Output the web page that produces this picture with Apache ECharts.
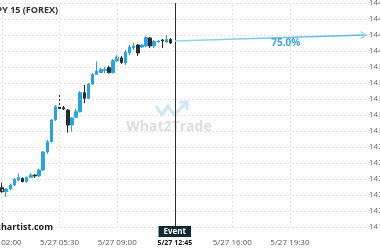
<!DOCTYPE html>
<html><head><meta charset="utf-8">
<script src="https://cdn.jsdelivr.net/npm/echarts@6/dist/echarts.min.js"></script>
<style>html,body{margin:0;padding:0;background:#fff}#c{width:380px;height:250px}</style>
</head><body><div id="c"></div>
<script>
const titleText = 'USD/JPY 15 (FOREX)';
const sourceText = 'chartist.com';
const watermarkText = 'What2Trade';
const eventText = 'Event';
const eventTimeLabel = '5/27 12:45';
const forecastText = '75.0%';

// 15-minute slots starting 5/27 02:00
const slotCount = 89;
const categories = [];
for (let i = 0; i < slotCount; i++) {
  const m = 120 + i * 15;
  const d = m >= 1440 ? '5/28' : '5/27';
  const mm = m % 1440;
  categories.push(d + ' ' + String(Math.floor(mm / 60)).padStart(2, '0') + ':' + String(mm % 60).padStart(2, '0'));
}
const labelIndices = [0, 14, 28, 42, 56, 70];
const eventIndex = 42;
const forecastEndIndex = 88;
const forecastStart = 144.125;
const forecastEnd = 144.2;
const forecastLabelIndex = 69;
const forecastLabelValue = 144.1;

const opens  = [142.291,142.241,142.275,142.325,142.388,142.409,142.366,142.421,142.450,142.438,142.513,142.738,142.866,143.138,143.300,143.291,143.263,143.075,143.171,143.241,143.479,143.409,143.588,143.709,143.731,143.756,143.791,143.729,143.875,143.913,143.850,143.975,144.038,144.075,144.050,144.063,144.163,144.063,144.113,144.138,144.113,144.144];
const closes = [142.241,142.275,142.325,142.396,142.421,142.366,142.421,142.450,142.438,142.513,142.738,142.866,143.138,143.304,143.281,143.275,143.075,143.163,143.241,143.479,143.409,143.588,143.709,143.750,143.769,143.769,143.729,143.879,143.925,143.856,143.988,144.050,144.063,143.975,144.075,144.169,144.063,144.119,144.125,144.125,144.144,144.100];
const lows   = [142.229,142.175,142.263,142.313,142.375,142.363,142.356,142.413,142.413,142.425,142.500,142.713,142.856,143.125,143.263,143.263,142.979,142.991,143.163,143.231,143.350,143.400,143.575,143.700,143.725,143.721,143.719,143.719,143.863,143.838,143.825,143.950,144.013,143.938,144.038,144.050,144.038,144.038,144.100,144.038,144.100,144.088];
const highs  = [142.354,142.288,142.338,142.413,142.471,142.419,142.431,142.475,142.456,142.525,142.750,142.888,143.150,143.325,143.450,143.313,143.275,143.175,143.275,143.500,143.575,143.600,143.725,143.869,143.788,143.804,143.813,143.900,143.950,143.938,144.013,144.075,144.100,144.088,144.088,144.181,144.175,144.138,144.138,144.150,144.200,144.163];

const yMin = 141.8, yMax = 144.6, yInterval = 0.2;

const upColor = '#27a5e0', downColor = '#2b2b2b';
const gridColor = '#e3e3e3';
const font = 'Open Sans';

const chart = echarts.init(document.getElementById('c'), null, {renderer: 'canvas'});
const showIdx = (idx) => labelIndices.indexOf(idx) >= 0;

chart.setOption({
  animation: false,
  backgroundColor: '#fff',
  grid: {left: 0, right: 14, top: 3, bottom: 23, containLabel: false, outerBoundsMode: 'none'},
  xAxis: {
    type: 'category',
    data: categories,
    boundaryGap: true,
    axisLine: {show: false},
    axisTick: {show: false},
    axisLabel: {
      interval: showIdx,
      margin: 12,
      fontSize: 8,
      fontFamily: font,
      color: '#555',
      hideOverlap: false,
      formatter: (v, idx) => idx === eventIndex ? '{b|' + eventTimeLabel + '}' : v,
      rich: {b: {fontWeight: 'bold', color: '#111', fontSize: 7, fontFamily: font}}
    },
    splitLine: {show: false}
  },
  yAxis: {
    type: 'value',
    position: 'right',
    min: yMin, max: yMax, interval: yInterval,
    axisLine: {show: false},
    axisTick: {show: false},
    axisLabel: {margin: 3, fontSize: 8, fontFamily: font, color: '#666', formatter: v => v.toFixed(3)},
    splitLine: {show: true, lineStyle: {color: gridColor, type: [2, 2], width: 1}}
  },
  graphic: [
    {type: 'text', x: 58, y: 10, z: 10, style: {text: titleText, align: 'right', verticalAlign: 'middle', font: 'bold 9px "Open Sans"', fill: '#333'}},
    {type: 'text', x: 53, y: 227, z: 10, style: {text: sourceText, align: 'right', verticalAlign: 'middle', font: 'bold 9px "Open Sans"', fill: '#222'}},
    {type: 'text', x: 169, y: 127, z: -1, style: {text: watermarkText, align: 'center', verticalAlign: 'middle', font: 'bold 14px "Open Sans"', fill: '#dddddd'}},
    {type: 'polyline', z: -1, shape: {points: [[156, 106], [162, 115], [168, 106], [174, 115], [186, 103]]}, style: {stroke: '#cfe7f4', lineWidth: 3, fill: null}},
    {type: 'polyline', z: -1, shape: {points: [[179, 102], [187, 102], [187, 110]]}, style: {stroke: '#cfe7f4', lineWidth: 3, fill: null}}
  ],
  series: [{
    type: 'line',
    data: [],
    z: 1,
    silent: true,
    markLine: {
      silent: true,
      symbol: ['none', 'none'],
      animation: false,
      label: {show: false},
      lineStyle: {color: gridColor, type: [2, 2], width: 1},
      data: labelIndices.filter(i => i !== eventIndex).map(i => ({xAxis: categories[i]}))
    }
  }, {
    type: 'candlestick',
    z: 2,
    data: opens.map((o, i) => [o, closes[i], lows[i], highs[i]]),
    barWidth: 3,
    itemStyle: {color: upColor, color0: downColor, borderColor: upColor, borderColor0: downColor, borderWidth: 1},
    markLine: {
      silent: true,
      symbol: ['none', 'none'],
      animation: false,
      data: [
        {xAxis: categories[eventIndex], lineStyle: {color: '#1f3238', width: 1, type: 'solid'},
         label: {show: true, position: 'start', formatter: eventText, color: '#fff', backgroundColor: '#0e2b32',
                 padding: [2, 5, 1, 5], fontWeight: 'bold', fontSize: 8, fontFamily: font, distance: -1}},
        [
          {coord: [categories[eventIndex], forecastStart], symbol: 'none',
           lineStyle: {width: 1.5, type: 'solid', color: new echarts.graphic.LinearGradient(0, 0, 1, 0, [{offset: 0, color: '#9dd6f2'}, {offset: 1, color: '#4fb8ea'}])},
           label: {show: false}},
          {coord: [categories[forecastEndIndex], forecastEnd], symbol: 'path://M0,10 L5,0 L10,10 L8.6,10 L5,2.8 L1.4,10 Z', symbolSize: [8, 7]}
        ]
      ]
    },
    markPoint: {
      silent: true,
      animation: false,
      data: [{coord: [categories[forecastLabelIndex], forecastLabelValue], symbol: 'circle', symbolSize: 0,
              label: {show: true, position: 'inside', formatter: forecastText, color: '#3aa6dc', fontWeight: 'bold', fontSize: 10, fontFamily: font}}]
    }
  }]
});
</script></body></html>
